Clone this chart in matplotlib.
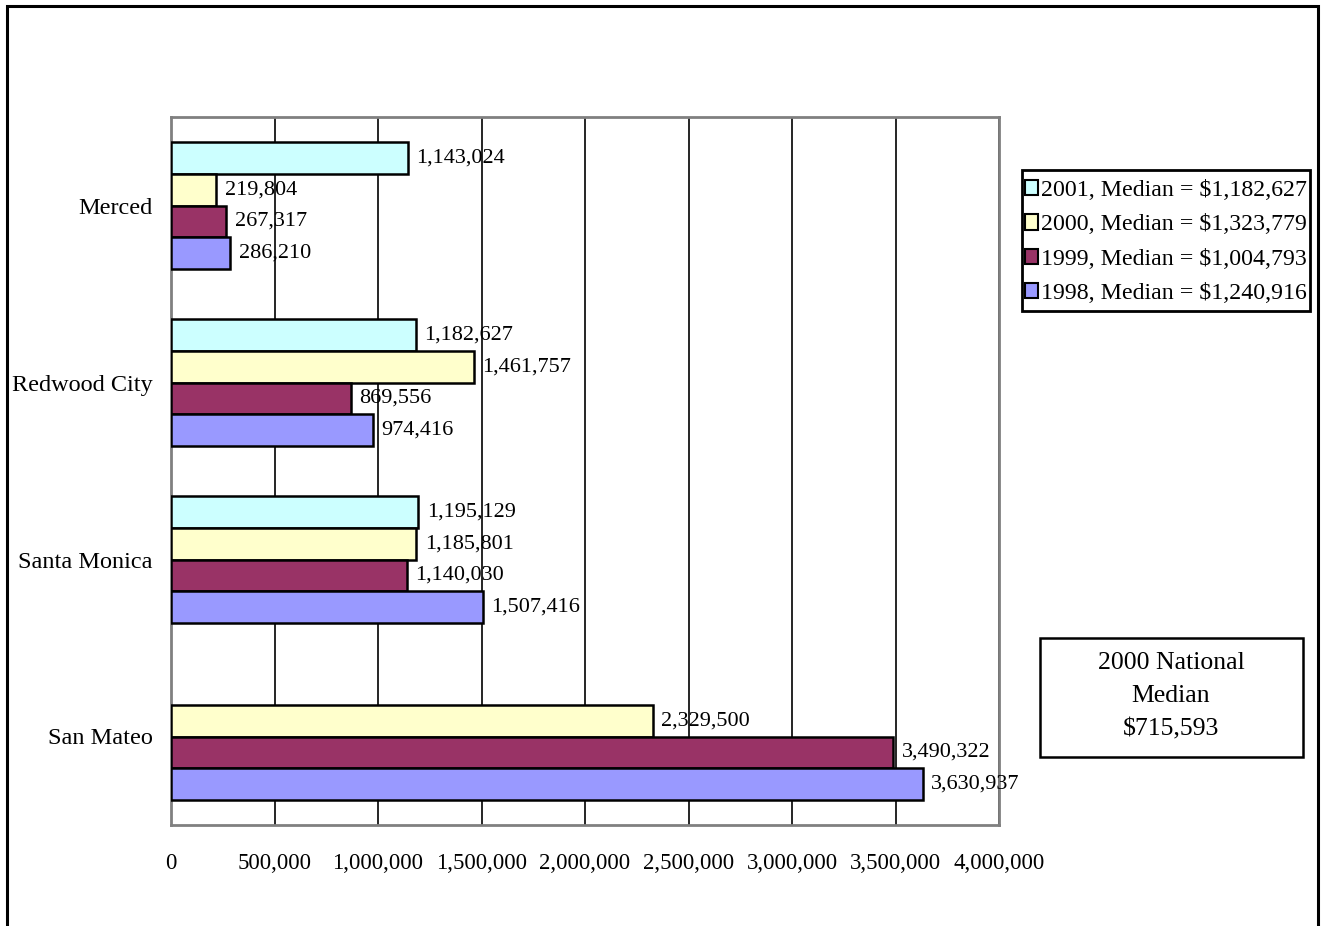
import numpy as np
import matplotlib
matplotlib.use('Agg')
import matplotlib.pyplot as plt
from matplotlib.patches import Patch, Rectangle
from matplotlib.ticker import FuncFormatter

plt.rcParams['font.family'] = ['Liberation Serif', 'DejaVu Serif']

# data
cities = ['Merced', 'Redwood City', 'Santa Monica', 'San Mateo']
years = ['2001', '2000', '1999', '1998']
medians = ['$1,182,627', '$1,323,779', '$1,004,793', '$1,240,916']
v2001 = [1143024, 1182627, 1195129, None]
v2000 = [219804, 1461757, 1185801, 2329500]
v1999 = [267317, 869556, 1140030, 3490322]
v1998 = [286210, 974416, 1507416, 3630937]
series = [v2001, v2000, v1999, v1998]
colors = ['#CCFFFF', '#FFFFCC', '#993366', '#9999FF']
national_note = '2000 National\nMedian\n$715,593'

W, H = 1327, 926
fig = plt.figure(figsize=(W / 100, H / 100), dpi=100)

# outer frame (bottom edge runs off the picture)
fig.patches.append(Rectangle((7 / W, -0.05), 1311 / W, (920 / H) + 0.05,
                             transform=fig.transFigure, fill=False,
                             edgecolor='black', lw=2.2))

ax = fig.add_axes([171 / W, (H - 825) / H, 828 / W, 708 / H])

h = 0.18
y = np.arange(len(cities))
for i, vals in enumerate(series):
    off = (i - 1.5) * h
    for j, v in enumerate(vals):
        if v is None:
            continue
        ax.barh(y[j] + off, v, height=h, color=colors[i],
                edgecolor='black', linewidth=1.8, zorder=3)
        ax.text(v + 40000, y[j] + off, f'{v:,}', va='center', ha='left',
                fontsize=16, zorder=4)

ax.set_xlim(0, 4000000)
ax.set_ylim(len(cities) - 0.5, -0.5)
ax.set_xticks(np.arange(0, 4000001, 500000))
ax.xaxis.set_major_formatter(FuncFormatter(lambda x, p: f'{x:,.0f}'))
ax.set_yticks(y)
ax.set_yticklabels(cities)
ax.tick_params(axis='x', length=0, pad=20, labelsize=16.5)
ax.tick_params(axis='y', length=0, pad=13, labelsize=17.5)
ax.grid(axis='x', color='black', lw=1.2, zorder=1)
for s in ax.spines.values():
    s.set_color('#808080')
    s.set_linewidth(2)

# legend drawn without its own frame; box added separately
handles = [Patch(facecolor=c, edgecolor='black', lw=1.5) for c in colors]
labels = [f'{yr}, Median = {m}' for yr, m in zip(years, medians)]
fig.legend(handles, labels, loc='upper left',
           bbox_to_anchor=(1025 / W, 1 - 180 / H), fontsize=17.2,
           frameon=False, handlelength=0.55, handleheight=0.6,
           handletextpad=0.12, labelspacing=0.56, borderpad=0,
           borderaxespad=0)
fig.patches.append(Rectangle((1022 / W, 1 - 311 / H), 288 / W, 141 / H,
                             transform=fig.transFigure, fill=False,
                             edgecolor='black', lw=2))

# national median box
fig.patches.append(Rectangle((1040 / W, 1 - 757 / H), 263 / W, 119 / H,
                             transform=fig.transFigure, fill=False,
                             edgecolor='black', lw=1.8))
fig.text(1171 / W, 1 - 696 / H, national_note, ha='center', va='center',
         fontsize=18.5, linespacing=1.65)

fig.savefig('out.png', dpi=100)
